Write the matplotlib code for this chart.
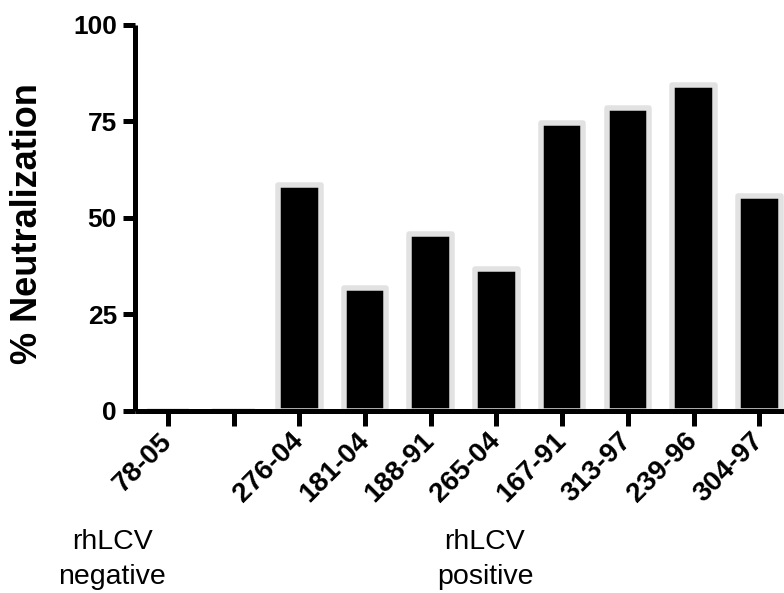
import matplotlib
matplotlib.use("Agg")
import matplotlib.pyplot as plt
import numpy as np

plt.rcParams['font.family'] = ['Liberation Sans', 'DejaVu Sans']

# sample ids (second slot left empty in the original figure)
samples = ['78-05', '', '276-04', '181-04', '188-91', '265-04',
           '167-91', '313-97', '239-96', '304-97']
neutralization = [0, 0, 58.5, 31.8, 45.7, 36.7, 74.6, 78.6, 84.5, 55.7]
yticks = [0, 25, 50, 75, 100]
group_labels = ['rhLCV\nnegative', 'rhLCV\npositive']

fig = plt.figure(figsize=(7.84, 5.93), dpi=100)
ax = fig.add_axes([135/784, 1 - 410.8/593, 1 - 135/784, 385.8/593])

x = np.arange(len(samples))
ax.bar(x, neutralization, width=0.647, color='black', edgecolor='#e2e2e2',
       linewidth=3.96, joinstyle='round', zorder=1)

ax.set_xlim(-0.5, 9.375)
ax.set_ylim(0, 100)
ax.set_yticks(yticks)
ax.set_yticklabels([str(v) for v in yticks], fontsize=19, fontweight='bold')
ax.set_xticks(x)
ax.set_xticklabels(samples, fontsize=20, fontweight='bold', rotation=45,
                   ha='right', va='center', rotation_mode='anchor')

for s in ['top', 'right']:
    ax.spines[s].set_visible(False)
for s in ['left', 'bottom']:
    ax.spines[s].set_linewidth(3.6)
    ax.spines[s].set_capstyle('butt')
ax.tick_params(axis='both', width=3.6, color='black')
ax.tick_params(axis='y', length=9, pad=4)
ax.tick_params(axis='x', length=11, pad=8)

fig.text(27.5/784, 1 - 223.5/593, '% Neutralization', rotation=90,
         ha='center', va='center', fontsize=26, fontweight='bold')

fig.text(112/784, 1 - 529/593, group_labels[0], ha='center', va='top',
         fontsize=20.5, linespacing=1.45)
fig.text(485/784, 1 - 529/593, group_labels[1], ha='center', va='top',
         fontsize=20.5, linespacing=1.45)

fig.savefig('out.png', dpi=100)
